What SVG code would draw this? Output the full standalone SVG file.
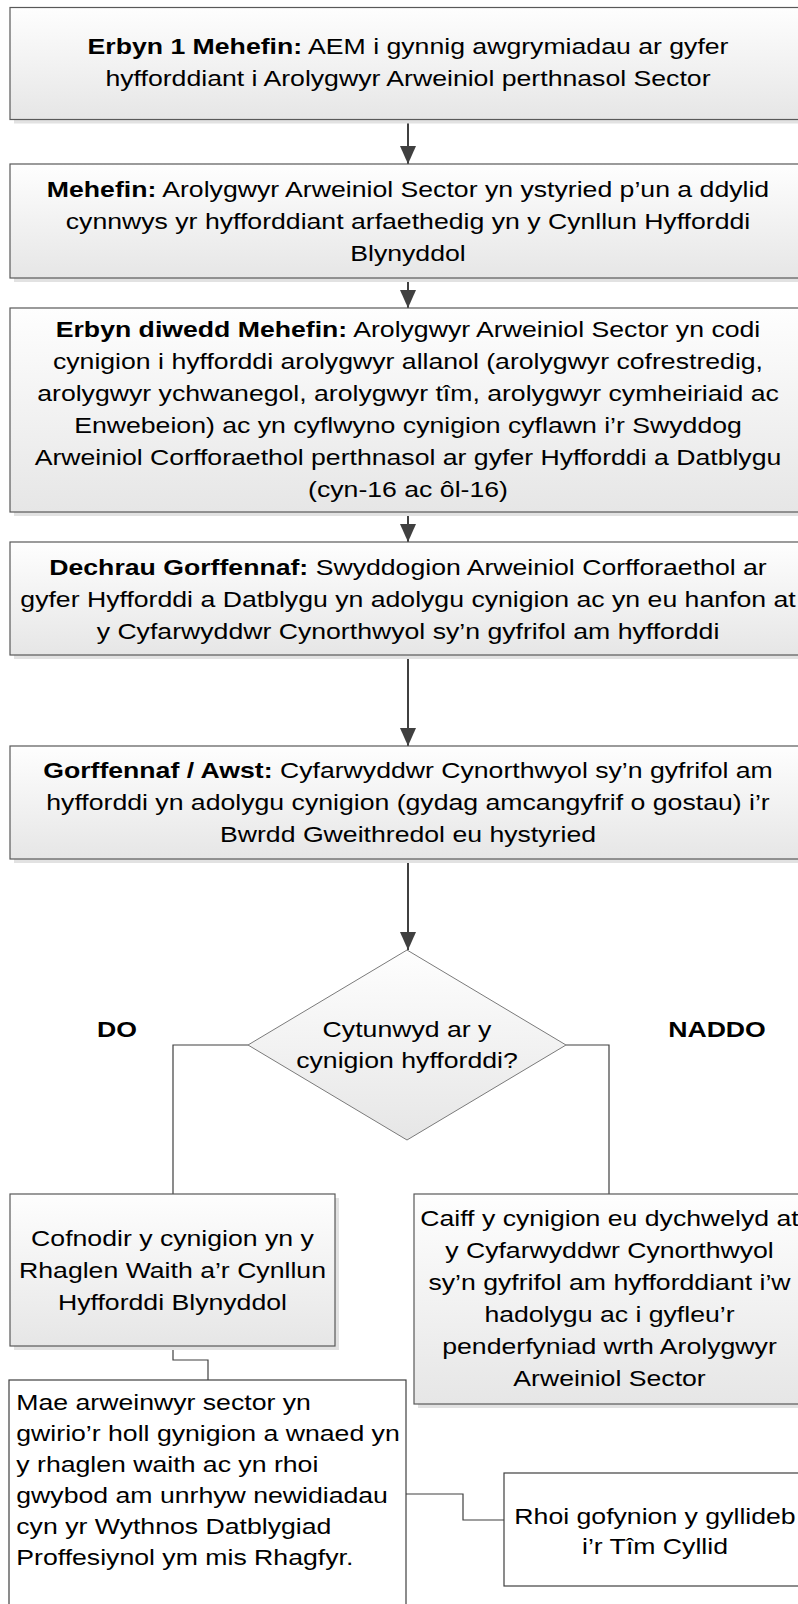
<svg xmlns="http://www.w3.org/2000/svg" width="798" height="1604" viewBox="0 0 798 1604">
<defs>
<linearGradient id="gf" x1="0" y1="0" x2="0" y2="1">
<stop offset="0" stop-color="#fefefe"/>
<stop offset="1" stop-color="#e6e6e6"/>
</linearGradient>
<marker id="ah" markerUnits="userSpaceOnUse" markerWidth="18" markerHeight="18" refX="18" refY="8" orient="auto">
<path d="M0,0 L18,8 L0,16 Z" fill="#404040"/>
</marker>
</defs>
<style>
.box{fill:url(#gf);stroke:#595959;stroke-width:1.2}
.plain{fill:#ffffff;stroke:#404040;stroke-width:1.2}
.sh{fill:#e2e2e2}
.dia{fill:url(#gf);stroke:#7a7a7a;stroke-width:1}
text{font-family:"Liberation Sans",Arial,sans-serif;font-size:22.2px;fill:#000}
.c{text-anchor:middle}
.b{font-weight:bold}
.arr{stroke:#404040;stroke-width:2;fill:none;marker-end:url(#ah)}
.ln{stroke:#404040;stroke-width:1.2;fill:none}
</style>

<g id="connectors">
<line class="arr" x1="408" y1="119.5" x2="408" y2="164"/>
<line class="arr" x1="408" y1="278" x2="408" y2="308"/>
<line class="arr" x1="408" y1="512" x2="408" y2="542"/>
<line class="arr" x1="408" y1="655" x2="408" y2="746"/>
<line class="arr" x1="408" y1="859" x2="408" y2="950"/>
<polyline class="ln" points="248,1045 173,1045 173,1194"/>
<polyline class="ln" points="566,1045 609,1045 609,1194"/>
<polyline class="ln" points="173,1346 173,1360 208,1360 208,1380"/>
<polyline class="ln" points="406,1494 463,1494 463,1520 504,1520"/>
</g>

<g id="n1">
<rect class="sh" x="14" y="11.5" width="796" height="112"/>
<rect class="box" x="10" y="7.5" width="796" height="112"/>
<g transform="matrix(1.2,0,0,1,-81.6,0)">
<text class="c" x="408" y="54"><tspan class="b">Erbyn 1 Mehefin:</tspan> AEM i gynnig awgrymiadau ar gyfer</text>
<text class="c" x="408" y="86">hyfforddiant i Arolygwyr Arweiniol perthnasol Sector</text>
</g>
</g>

<g id="n2">
<rect class="sh" x="14" y="168" width="796" height="114"/>
<rect class="box" x="10" y="164" width="796" height="114"/>
<g transform="matrix(1.2,0,0,1,-81.6,0)">
<text class="c" x="408" y="197"><tspan class="b">Mehefin:</tspan> Arolygwyr Arweiniol Sector yn ystyried p’un a ddylid</text>
<text class="c" x="408" y="229">cynnwys yr hyfforddiant arfaethedig yn y Cynllun Hyfforddi</text>
<text class="c" x="408" y="261">Blynyddol</text>
</g>
</g>

<g id="n3">
<rect class="sh" x="14" y="312" width="796" height="204"/>
<rect class="box" x="10" y="308" width="796" height="204"/>
<g transform="matrix(1.2,0,0,1,-81.6,0)">
<text class="c" x="408" y="337"><tspan class="b">Erbyn diwedd Mehefin:</tspan> Arolygwyr Arweiniol Sector yn codi</text>
<text class="c" x="408" y="369">cynigion i hyfforddi arolygwyr allanol (arolygwyr cofrestredig,</text>
<text class="c" x="408" y="401">arolygwyr ychwanegol, arolygwyr tîm, arolygwyr cymheiriaid ac</text>
<text class="c" x="408" y="433">Enwebeion) ac yn cyflwyno cynigion cyflawn i’r Swyddog</text>
<text class="c" x="408" y="465">Arweiniol Corfforaethol perthnasol ar gyfer Hyfforddi a Datblygu</text>
<text class="c" x="408" y="497">(cyn-16 ac ôl-16)</text>
</g>
</g>

<g id="n4">
<rect class="sh" x="14" y="546" width="796" height="113"/>
<rect class="box" x="10" y="542" width="796" height="113"/>
<g transform="matrix(1.2,0,0,1,-81.6,0)">
<text class="c" x="408" y="575"><tspan class="b">Dechrau Gorffennaf:</tspan> Swyddogion Arweiniol Corfforaethol ar</text>
<text class="c" x="408" y="607">gyfer Hyfforddi a Datblygu yn adolygu cynigion ac yn eu hanfon at</text>
<text class="c" x="408" y="639">y Cyfarwyddwr Cynorthwyol sy’n gyfrifol am hyfforddi</text>
</g>
</g>

<g id="n5">
<rect class="sh" x="14" y="750" width="796" height="113"/>
<rect class="box" x="10" y="746" width="796" height="113"/>
<g transform="matrix(1.2,0,0,1,-81.6,0)">
<text class="c" x="408" y="778"><tspan class="b">Gorffennaf / Awst:</tspan> Cyfarwyddwr Cynorthwyol sy’n gyfrifol am</text>
<text class="c" x="408" y="810">hyfforddi yn adolygu cynigion (gydag amcangyfrif o gostau) i’r</text>
<text class="c" x="408" y="842">Bwrdd Gweithredol eu hystyried</text>
</g>
</g>

<g id="decision">
<polygon class="dia" points="407,950 566,1045 407,1140 248,1045"/>
<g transform="matrix(1.2,0,0,1,-81.4,0)">
<text class="c" x="407" y="1037">Cytunwyd ar y</text>
<text class="c" x="407" y="1068">cynigion hyfforddi?</text>
</g>
</g>

<g id="label-do">
<g transform="matrix(1.2,0,0,1,-23.4,0)">
<text class="c b" x="117" y="1037">DO</text>
</g>
</g>

<g id="label-naddo">
<g transform="matrix(1.2,0,0,1,-143.4,0)">
<text class="c b" x="717" y="1037">NADDO</text>
</g>
</g>

<g id="n6">
<rect class="sh" x="14" y="1198" width="325" height="152"/>
<rect class="box" x="10" y="1194" width="325" height="152"/>
<g transform="matrix(1.2,0,0,1,-34.5,0)">
<text class="c" x="172.5" y="1246">Cofnodir y cynigion yn y</text>
<text class="c" x="172.5" y="1278">Rhaglen Waith a’r Cynllun</text>
<text class="c" x="172.5" y="1310">Hyfforddi Blynyddol</text>
</g>
</g>

<g id="n7">
<rect class="sh" x="418" y="1198" width="391" height="210"/>
<rect class="box" x="414" y="1194" width="391" height="210"/>
<g transform="matrix(1.2,0,0,1,-121.9,0)">
<text class="c" x="609.5" y="1226">Caiff y cynigion eu dychwelyd at</text>
<text class="c" x="609.5" y="1258">y Cyfarwyddwr Cynorthwyol</text>
<text class="c" x="609.5" y="1290">sy’n gyfrifol am hyfforddiant i’w</text>
<text class="c" x="609.5" y="1322">hadolygu ac i gyfleu’r</text>
<text class="c" x="609.5" y="1354">penderfyniad wrth Arolygwyr</text>
<text class="c" x="609.5" y="1386">Arweiniol Sector</text>
</g>
</g>

<g id="n8">
<rect class="plain" x="9" y="1380" width="397" height="240"/>
<g transform="matrix(1.2,0,0,1,-3.26,0)">
<text x="16.3" y="1410">Mae arweinwyr sector yn</text>
<text x="16.3" y="1441">gwirio’r holl gynigion a wnaed yn</text>
<text x="16.3" y="1472">y rhaglen waith ac yn rhoi</text>
<text x="16.3" y="1503">gwybod am unrhyw newidiadau</text>
<text x="16.3" y="1534">cyn yr Wythnos Datblygiad</text>
<text x="16.3" y="1565">Proffesiynol ym mis Rhagfyr.</text>
</g>
</g>

<g id="n9">
<rect class="plain" x="504" y="1473" width="302" height="113"/>
<g transform="matrix(1.2,0,0,1,-131,0)">
<text class="c" x="655" y="1524">Rhoi gofynion y gyllideb</text>
<text class="c" x="655" y="1554">i’r Tîm Cyllid</text>
</g>
</g>
</svg>
